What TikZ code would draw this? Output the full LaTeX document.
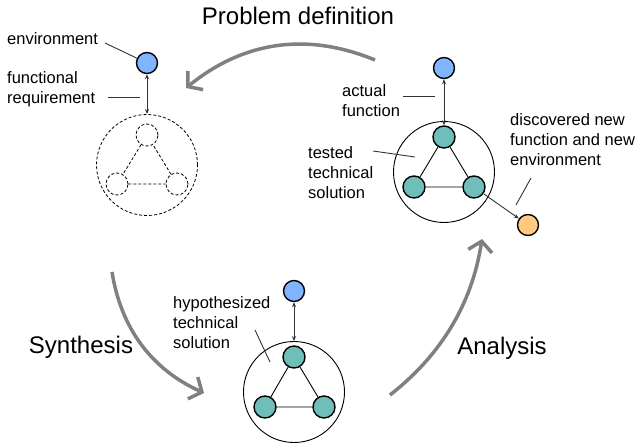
\documentclass[tikz,border=0pt]{standalone}
\usepackage{fontspec}
\setmainfont{Liberation Sans}
\usetikzlibrary{arrows.meta}
\definecolor{envblue}{RGB}{128,180,255}
\definecolor{partteal}{RGB}{112,190,186}
\definecolor{neworange}{RGB}{255,201,128}
\definecolor{phasegray}{RGB}{128,128,128}
\tikzset{
  lbl/.style={font=\fontsize{16.5}{20}\selectfont, align=left, inner sep=0pt, anchor=west},
  title/.style={font=\fontsize{24}{28}\selectfont, inner sep=0pt},
  env/.style={circle, draw, line width=1.4pt, fill=envblue, minimum size=21pt, inner sep=0pt},
  teal/.style={circle, draw, line width=1.4pt, fill=partteal, minimum size=22pt, inner sep=0pt},
  newenv/.style={circle, draw, line width=1.4pt, fill=neworange, minimum size=21pt, inner sep=0pt},
  ghost/.style={circle, draw, line width=0.8pt, dash pattern=on 3pt off 2pt, minimum size=22pt, inner sep=0pt},
  system/.style={circle, draw, line width=0.9pt, minimum size=101pt, inner sep=0pt},
  phase/.style={draw=phasegray, line width=3.5pt, -{Straight Barb[length=10pt,width=24pt]}},
  link/.style={draw=black!80, line width=0.9pt, {Stealth[length=5pt,width=4pt]}-{Stealth[length=5pt,width=4pt]}},
  leader/.style={draw=black!80, line width=0.9pt},
}
\begin{document}
\begin{tikzpicture}[x=1pt, y=-1pt]
        \useasboundingbox (0,0) rectangle (637,445);

        \node[env] (envA) at (147,63) {};
        \node[system, dash pattern=on 3pt off 2pt, line width=0.8pt] (solA) at (147,165) {};
        \node[ghost] (ghA1) at (147,135) {};
        \node[ghost] (ghA2) at (117,184) {};
        \node[ghost] (ghA3) at (177,184) {};
        \draw[line width=0.8pt, dash pattern=on 3pt off 2pt] (ghA1) -- (ghA2) (ghA2) -- (ghA3) (ghA3) -- (ghA1);
        \draw[link] (envA) -- (solA);
        \node[lbl] (lblEnv) at (7,39) {environment};
        \node[lbl] (lblReq) at (7,89) {functional\\requirement};
        \coordinate (tEnv) at (105,43);
        \coordinate (tReqA) at (108,97);
        \coordinate (tReqB) at (140,97);
        \draw[leader] (tEnv) -- (envA);
        \draw[leader] (tReqA) -- (tReqB);

        \node[env] (envB) at (444,68) {};
        \node[system] (solB) at (444,172) {};
        \node[teal] (tB1) at (444,137) {};
        \node[teal] (tB2) at (414,187) {};
        \node[teal] (tB3) at (474,187) {};
        \node[newenv] (newB) at (528,225) {};
        \draw[line width=0.9pt] (tB1) -- (tB2) (tB2) -- (tB3) (tB3) -- (tB1);
        \draw[link] (envB) -- (tB1);
        \draw[leader, -{Stealth[length=5pt,width=4pt]}] (tB3) -- (newB);
        \node[lbl] (lblAct) at (342,101) {actual\\function};
        \node[lbl] (lblTest) at (308,173) {tested\\technical\\solution};
        \node[lbl] (lblNew) at (510,140) {discovered new\\function and new\\environment};
        \coordinate (tActA) at (403,96);
        \coordinate (tActB) at (435,96);
        \coordinate (tTestA) at (373,151);
        \coordinate (tTestB) at (415,157);
        \coordinate (tNewA) at (531,178);
        \coordinate (tNewB) at (516,205);
        \draw[leader] (tActA) -- (tActB);
        \draw[leader] (tTestA) -- (tTestB);
        \draw[leader] (tNewA) -- (tNewB);

        \node[env] (envC) at (294,291) {};
        \node[system] (solC) at (294,392) {};
        \node[teal] (tC1) at (294,357) {};
        \node[teal] (tC2) at (265,407) {};
        \node[teal] (tC3) at (324,407) {};
        \draw[line width=0.9pt] (tC1) -- (tC2) (tC2) -- (tC3) (tC3) -- (tC1);
        \draw[link] (envC) -- (solC);
        \node[lbl] (lblHyp) at (173,323) {hypothesized\\technical\\solution};
        \coordinate (tHypA) at (255,330);
        \coordinate (tHypB) at (270,362);
        \draw[leader] (tHypA) -- (tHypB);

        \node[title] (ttlProb) at (298,16) {Problem definition};
        \node[title] (ttlSyn) at (81,347) {Synthesis};
        \node[title] (ttlAna) at (502,348) {Analysis};
        \coordinate (probS) at (375,60);
        \coordinate (probE) at (186,88);
        \coordinate (synS) at (112,272);
        \coordinate (synE) at (204,393);
        \coordinate (anaS) at (390,395);
        \coordinate (anaE) at (482,239);
        \draw[phase] (probS) .. controls (307,32) and (244,41) .. (probE);
        \draw[phase] (synS) .. controls (121,328) and (151,369) .. (synE);
        \draw[phase] (anaS) .. controls (441,355) and (472,304) .. (anaE);
    \end{tikzpicture}
\end{document}
